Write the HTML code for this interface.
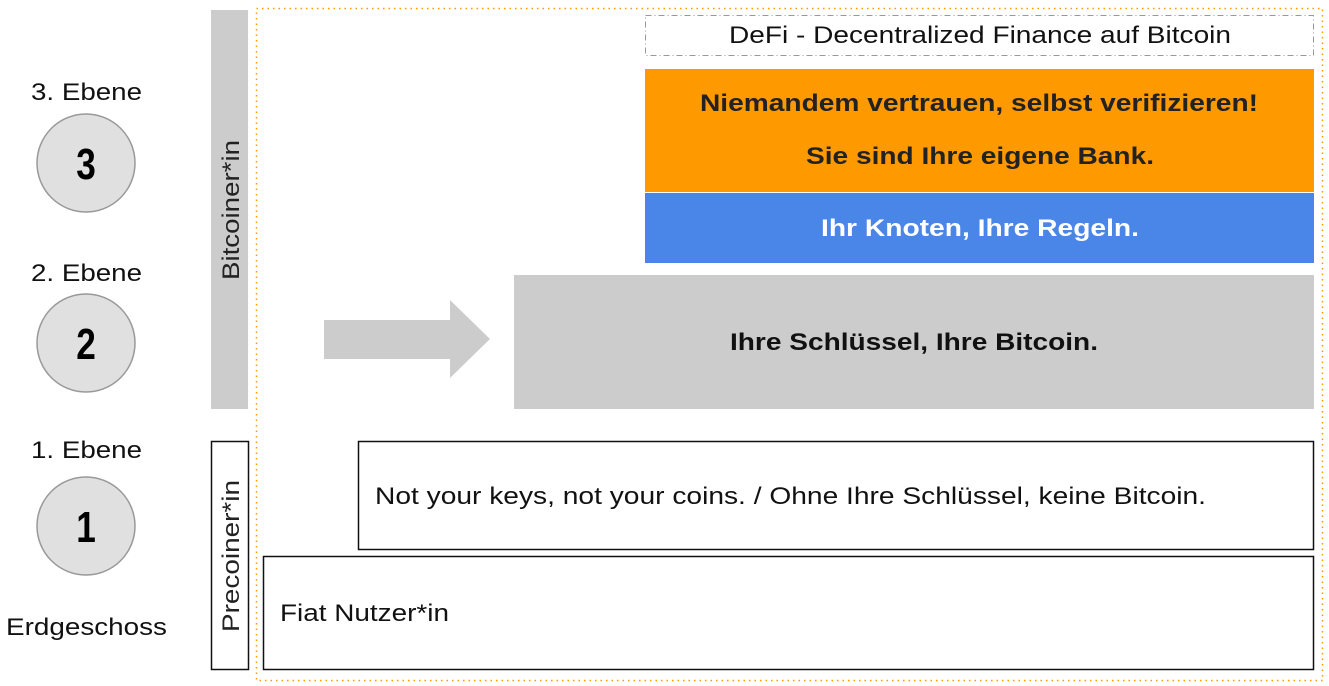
<!DOCTYPE html>
<html><head><meta charset="utf-8"><style>
html,body{margin:0;padding:0;background:#fff;width:1329px;height:686px;overflow:hidden}
text{font-family:"Liberation Sans",Arial,sans-serif}
</style></head><body>
<svg width="1329" height="686" xmlns="http://www.w3.org/2000/svg" font-family="Liberation Sans, Arial, sans-serif">
<rect x="256.5" y="8.5" width="1066" height="672" fill="none" stroke="#f90" stroke-width="1.5" stroke-dasharray="1.5 4"/>
<text x="31" y="100" font-size="24" textLength="111" lengthAdjust="spacingAndGlyphs" fill="#111">3. Ebene</text>
<text x="31" y="281" font-size="24" textLength="111" lengthAdjust="spacingAndGlyphs" fill="#111">2. Ebene</text>
<text x="31" y="458" font-size="24" textLength="111" lengthAdjust="spacingAndGlyphs" fill="#111">1. Ebene</text>
<text x="6" y="635" font-size="24" textLength="161" lengthAdjust="spacingAndGlyphs" fill="#111">Erdgeschoss</text>
<g fill="#e0e0e0" stroke="#999" stroke-width="1.5">
<circle cx="86" cy="163" r="49"/><circle cx="86" cy="343" r="49"/><circle cx="86" cy="526" r="49"/>
</g>
<g font-size="44" font-weight="bold" text-anchor="middle" fill="#000">
<text transform="translate(86 179) scale(0.8 1)">3</text>
<text transform="translate(86 359) scale(0.8 1)">2</text>
<text transform="translate(86 542) scale(0.8 1)">1</text>
</g>
<rect x="211" y="10" width="37" height="399" fill="#ccc"/>
<text transform="translate(239 280) rotate(-90)" font-size="24" textLength="140" lengthAdjust="spacingAndGlyphs" fill="#222">Bitcoiner*in</text>
<rect x="211.5" y="441.5" width="37" height="228" fill="#fff" stroke="#111" stroke-width="1.5"/>
<text transform="translate(239 632) rotate(-90)" font-size="24" textLength="152" lengthAdjust="spacingAndGlyphs" fill="#222">Precoiner*in</text>
<rect x="645.5" y="15.5" width="668" height="40" fill="#fff" stroke="#999" stroke-width="1" stroke-dasharray="6 3 1 3"/>
<text x="729" y="43" font-size="24" textLength="502" lengthAdjust="spacingAndGlyphs" fill="#111">DeFi - Decentralized Finance auf Bitcoin</text>
<rect x="645" y="69" width="669" height="123" fill="#ff9900"/>
<text x="700" y="111" font-size="24" font-weight="bold" textLength="558" lengthAdjust="spacingAndGlyphs" fill="#222">Niemandem vertrauen, selbst verifizieren!</text>
<text x="806" y="164" font-size="24" font-weight="bold" textLength="348" lengthAdjust="spacingAndGlyphs" fill="#222">Sie sind Ihre eigene Bank.</text>
<rect x="645" y="193" width="669" height="70" fill="#4a86e8"/>
<text x="821" y="236" font-size="24" font-weight="bold" textLength="318" lengthAdjust="spacingAndGlyphs" fill="#fff">Ihr Knoten, Ihre Regeln.</text>
<polygon points="324,320 450,320 450,300 490,339 450,378 450,359 324,359" fill="#ccc"/>
<rect x="514" y="275" width="800" height="134" fill="#ccc"/>
<text x="730" y="350" font-size="24" font-weight="bold" textLength="368" lengthAdjust="spacingAndGlyphs" fill="#111">Ihre Schlüssel, Ihre Bitcoin.</text>
<rect x="358.5" y="441.5" width="955" height="108" fill="#fff" stroke="#111" stroke-width="1.5"/>
<text x="375" y="504" font-size="24" textLength="831" lengthAdjust="spacingAndGlyphs" fill="#111">Not your keys, not your coins. / Ohne Ihre Schlüssel, keine Bitcoin.</text>
<rect x="263.5" y="556.5" width="1050" height="113" fill="#fff" stroke="#111" stroke-width="1.5"/>
<text x="280" y="621" font-size="24" textLength="169" lengthAdjust="spacingAndGlyphs" fill="#111">Fiat Nutzer*in</text>
</svg>
</body></html>
